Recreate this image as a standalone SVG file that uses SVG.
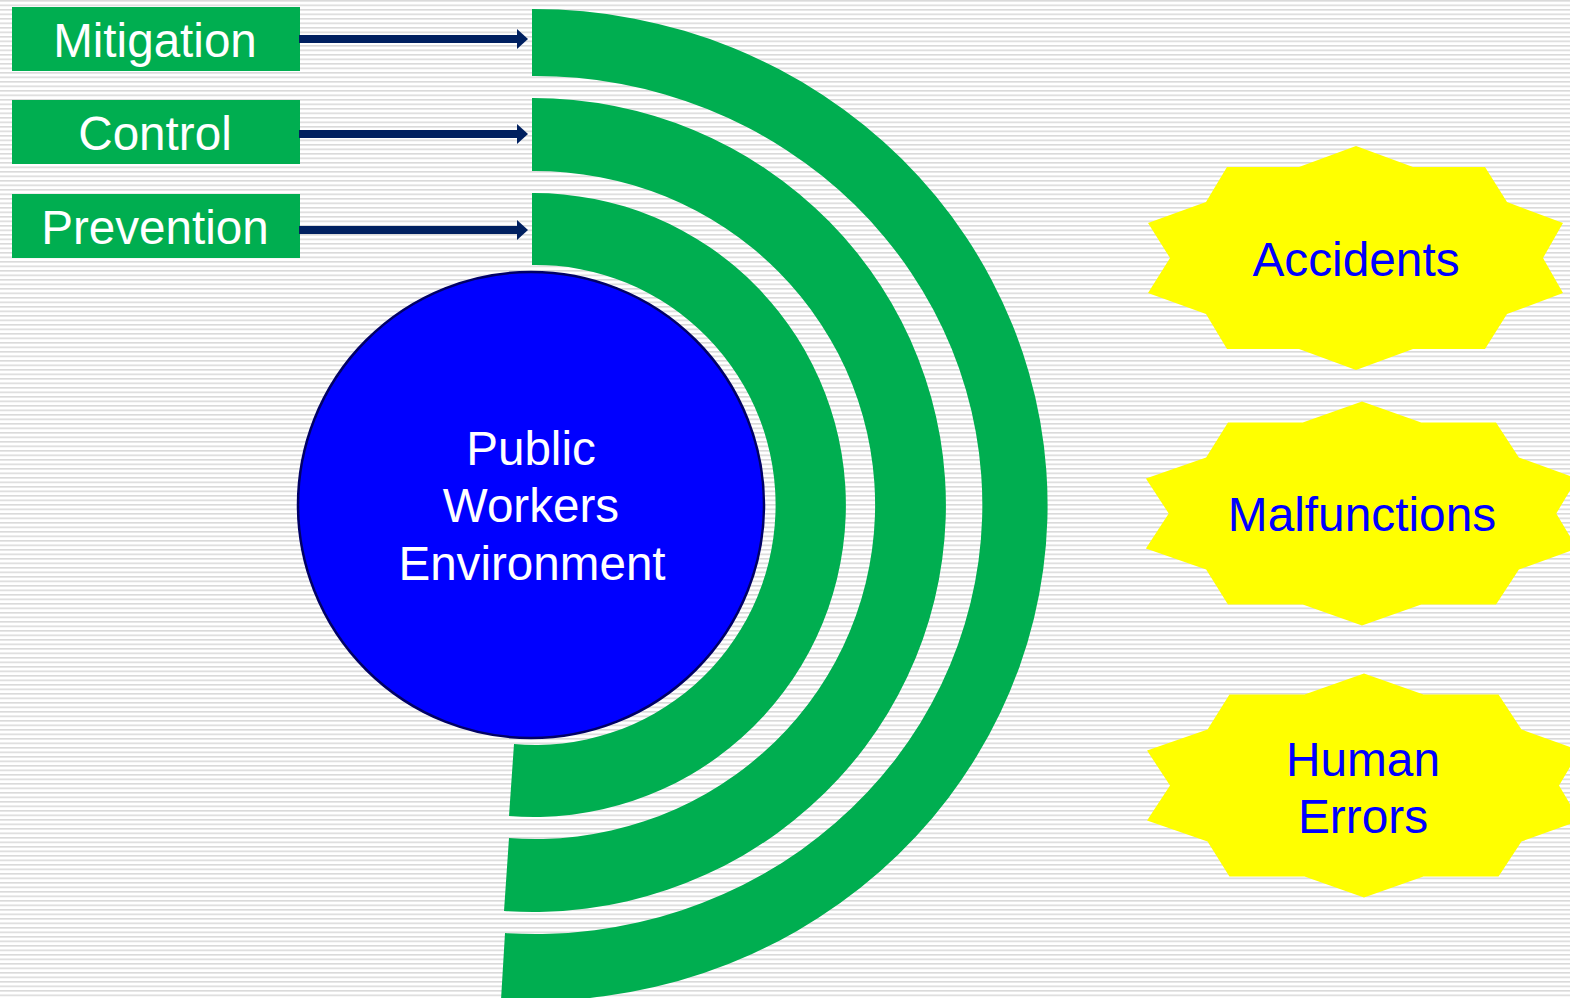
<svg xmlns="http://www.w3.org/2000/svg" xmlns:xlink="http://www.w3.org/1999/xlink" width="1570" height="998" viewBox="0 0 1570 998">
<style>
.box{fill:#00AE50}
.arc{fill:#00AE50}
.btxt{font-family:"Liberation Sans",Arial,sans-serif;font-size:47.6px;fill:#FFFFFF;text-anchor:middle}
.stxt{font-family:"Liberation Sans",Arial,sans-serif;font-size:47.8px;fill:#0000FF;text-anchor:middle}
.star{fill:#FFFF00}
.conn{stroke:#002060;stroke-width:8;fill:none}
</style>
<defs>
<pattern id="stripes" width="20" height="4.5" patternUnits="userSpaceOnUse">
<rect x="0" y="0" width="20" height="4.5" fill="#FFFFFF"/>
<rect x="0" y="0" width="20" height="1.6" fill="#DADADA"/>
</pattern>
<marker id="ah" markerWidth="11" markerHeight="20" refX="0" refY="10" orient="auto" markerUnits="userSpaceOnUse">
<path d="M0,0 L11,10 L0,20 Z" fill="#002060"/>
</marker>
<polygon id="starShape" points="0,-112 57,-91 129,-91 151,-56 207,-35 187,0 207,35 151,56 129,91 57,91 0,112 -57,91 -129,91 -150,56 -208,35 -186,0 -208,-35 -150,-56 -129,-91 -57,-91"/>
</defs>
<rect x="0" y="0" width="1570" height="998" fill="url(#stripes)"/>

<g id="arc-mitigation">
<path class="arc" d="M532,9 A514,496 0 1 1 501,1000 L505,933 A447,429 0 1 0 532,76 Z"/>
</g>
<g id="arc-control">
<path class="arc" d="M532,98 A413,407 0 1 1 504,911 L509,838 A340,334 0 1 0 532,171 Z"/>
</g>
<g id="arc-prevention">
<path class="arc" d="M532,193 A312,312 0 1 1 509,816 L514,744 A240,240 0 1 0 532,265 Z"/>
</g>

<g id="center">
<circle cx="531" cy="505" r="233" fill="#0000FF" stroke="#000066" stroke-width="2.5"/>
<text class="btxt" x="531" y="465">Public</text>
<text class="btxt" x="531" y="522">Workers</text>
<text class="btxt" x="532" y="580">Environment</text>
</g>

<g id="mitigation">
<rect class="box" x="12" y="7" width="288" height="64"/>
<text class="btxt" x="155" y="57">Mitigation</text>
</g>
<g id="control">
<rect class="box" x="12" y="100" width="288" height="64"/>
<text class="btxt" x="155" y="150">Control</text>
</g>
<g id="prevention">
<rect class="box" x="12" y="194" width="288" height="64"/>
<text class="btxt" x="155" y="244">Prevention</text>
</g>

<g id="connectors">
<line class="conn" x1="299" y1="39" x2="517" y2="39" marker-end="url(#ah)"/>
<line class="conn" x1="299" y1="134" x2="517" y2="134" marker-end="url(#ah)"/>
<line class="conn" x1="299" y1="230" x2="517" y2="230" marker-end="url(#ah)"/>
</g>

<g id="accidents">
<use xlink:href="#starShape" class="star" transform="translate(1356,258)"/>
<text class="stxt" x="1356" y="276">Accidents</text>
</g>
<g id="malfunctions">
<use xlink:href="#starShape" class="star" transform="translate(1362,513.5) scale(1.039,1)"/>
<text class="stxt" x="1362" y="531">Malfunctions</text>
</g>
<g id="human-errors">
<use xlink:href="#starShape" class="star" transform="translate(1364,785.5) scale(1.043,1)"/>
<text class="stxt" x="1363" y="776">Human</text>
<text class="stxt" x="1363" y="833">Errors</text>
</g>
</svg>
